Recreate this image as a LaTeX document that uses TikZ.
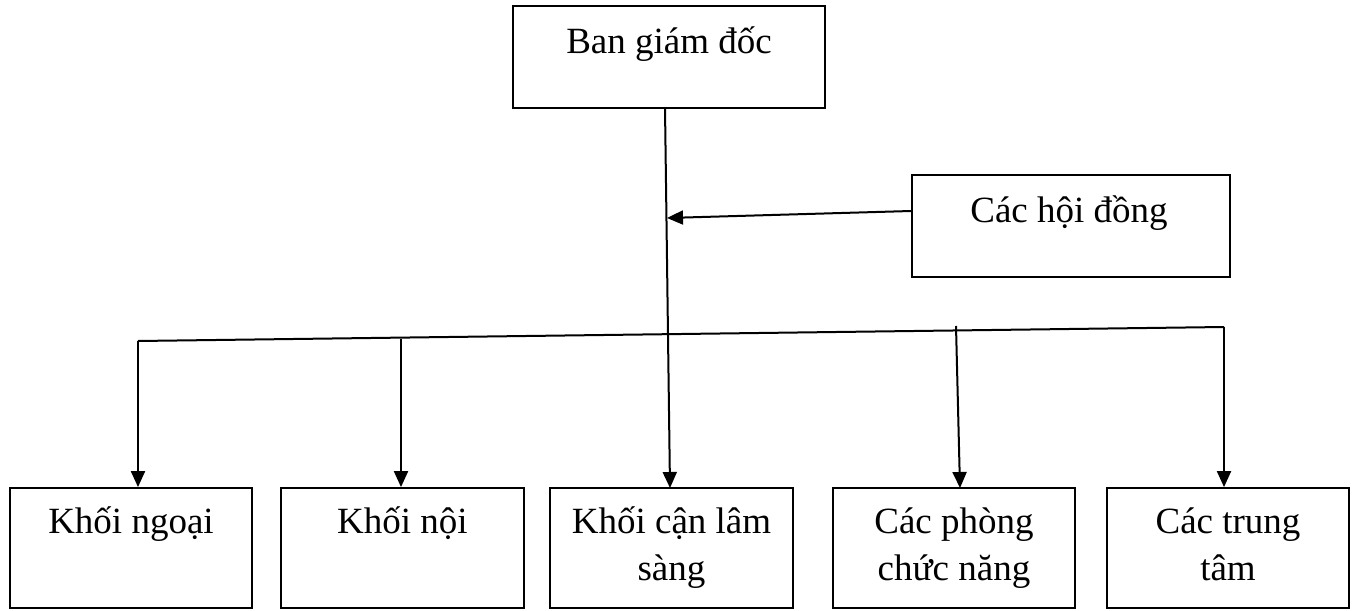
\documentclass[tikz,border=0pt]{standalone}
\usepackage{fontspec}
\setmainfont{Liberation Serif}
\usetikzlibrary{arrows.meta}
\begin{document}
\begin{tikzpicture}[x=1pt,y=-1pt,
  box/.style={draw=black,line width=1.8pt,rectangle,inner sep=0pt,minimum height=#1},
  box/.default=102pt,
  lbl/.style={inner sep=0pt,anchor=base,align=center,font=\fontsize{37}{47}\selectfont},
  ln/.style={draw=black,line width=2pt},
  arr/.style={ln,-{Triangle[length=16pt,width=14pt]}}]
\useasboundingbox (0,0) rectangle (1359,610);
% boxes
\node[box, minimum width=312pt] (top) at (669,57) {};
\node[box, minimum width=318pt] (hd) at (1071,226) {};
\node[box=120pt, minimum width=242pt] (b1) at (131,548) {};
\node[box=120pt, minimum width=243pt] (b2) at (402.5,548) {};
\node[box=120pt, minimum width=243pt] (b3) at (671.5,548) {};
\node[box=120pt, minimum width=242pt] (b4) at (954,548) {};
\node[box=120pt, minimum width=242pt] (b5) at (1228,548) {};
% labels
\node[lbl] (ttop) at (669,53) {Ban giám đốc};
\node[lbl] (thd) at (1069,222) {Các hội đồng};
\node[lbl] (t1) at (131,533) {Khối ngoại};
\node[lbl] (t2) at (402.5,533) {Khối nội};
\node[lbl] (t3) at (671.5,580) {Khối cận lâm\\sàng};
\node[lbl] (t4) at (954,580) {Các phòng\\chức năng};
\node[lbl] (t5) at (1228,580) {Các trung\\tâm};
% connectors
\coordinate (c0) at (665,108);
\coordinate (c1) at (670,488);
\draw[arr] (c0) -- (c1);
\coordinate (ha) at (667,218);
\draw[arr] (hd.west |- 0,211) -- (ha);
\coordinate (hL) at (138,341);
\coordinate (hR) at (1224,327);
\draw[ln] (hL) -- (hR);
\draw[arr] (hL) -- (hL |- b1.north);
\coordinate (h2) at (401,339);
\draw[arr] (h2) -- (h2 |- b2.north);
\coordinate (h4) at (956,326);
\coordinate (e4) at (960,488);
\draw[arr] (h4) -- (e4);
\draw[arr] (hR) -- (hR |- b5.north);
\end{tikzpicture}
\end{document}
